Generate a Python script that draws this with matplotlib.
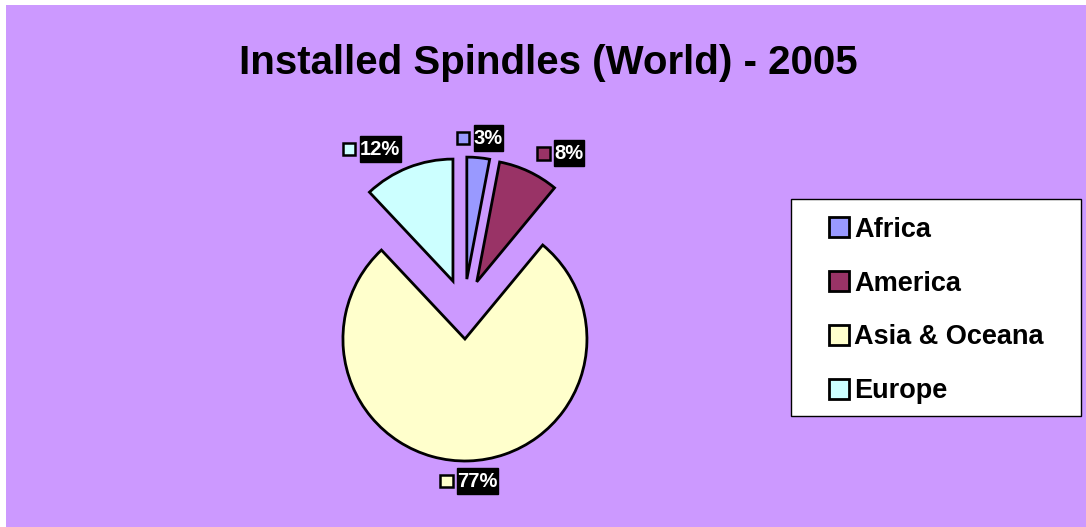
import matplotlib
matplotlib.use("Agg")
import numpy as np
import matplotlib.pyplot as plt
from matplotlib.patches import Rectangle
from matplotlib.offsetbox import (AnnotationBbox, DrawingArea, TextArea, HPacker,
                                  VPacker, PaddedBox)

plt.rcParams['font.family'] = ['Liberation Sans', 'DejaVu Sans']

# data
regions = ["Africa", "America", "Asia & Oceana", "Europe"]
shares = [3, 8, 77, 12]
colors = ["#9999FF", "#993366", "#FFFFCC", "#CCFFFF"]
title = "Installed Spindles (World) - 2005"

W, H = 1086, 527
dpi = 100
fig = plt.figure(figsize=(W / dpi, H / dpi), dpi=dpi)
fig.patch.set_facecolor("white")

# purple chart area (thin white margin top/left)
fig.add_artist(Rectangle((6 / W, 0), 1 - 6 / W, (H - 5) / H, transform=fig.transFigure,
                         facecolor="#CC99FF", edgecolor="none", zorder=-1))

# pie geometry in pixels
r_px = 122
cx, cy = 464, 309

ax = fig.add_axes([0, 0, 1, 1])
ax.patch.set_alpha(0)
wedges, _ = ax.pie(shares, colors=colors, startangle=90, counterclock=False,
                   explode=[0.246] * len(shares), radius=1,
                   wedgeprops=dict(edgecolor="black", linewidth=2))
ax.set_xlim(-cx / r_px, (W - cx) / r_px)
ax.set_ylim(-(H - cy) / r_px, cy / r_px)
ax.set_axis_off()

# data labels: small key square + white text on black
d = 172 / r_px
for w, s, c in zip(wedges, shares, colors):
    theta = np.deg2rad((w.theta1 + w.theta2) / 2)
    px, py = d * np.cos(theta), d * np.sin(theta)
    if abs(np.cos(theta)) < 0.2:
        halign = 0.5
    elif np.cos(theta) > 0:
        halign = 0.0
    else:
        halign = 1.0
    da = DrawingArea(9, 9)
    da.add_artist(Rectangle((0, 0), 9, 9, facecolor=c, edgecolor="black", lw=1.8))
    ta = TextArea(f"{s}%", textprops=dict(color="white", fontsize=14.5, fontweight="bold"))
    # extra vertical room inside the black box
    inner = VPacker(children=[DrawingArea(0, 2.5), ta, DrawingArea(0, 2)], sep=0,
                    align="center")
    pb = PaddedBox(inner, pad=0.3, draw_frame=True,
                   patch_attrs=dict(facecolor="black", edgecolor="black"))
    hp = HPacker(children=[da, pb], sep=3, align="center")
    ab = AnnotationBbox(hp, (px, py), xycoords="data", box_alignment=(halign, 0.5),
                        frameon=False, pad=0)
    ax.add_artist(ab)

# title
fig.text(548.5 / W, 1 - 74 / H, title, ha="center", va="baseline",
         fontsize=29, fontweight="bold")

# legend box
lx0, lx1, ly0, ly1 = 791, 1081, 199, 416
fig.add_artist(Rectangle((lx0 / W, 1 - ly1 / H), (lx1 - lx0) / W, (ly1 - ly0) / H,
                         transform=fig.transFigure, facecolor="white",
                         edgecolor="black", lw=1, zorder=1))
leg = fig.legend(wedges, regions, loc="center",
                 bbox_to_anchor=((lx0 + lx1) / 2 / W, 1 - ((ly0 + ly1) / 2 + 3) / H),
                 frameon=False, prop=dict(size=19.5, weight="bold"),
                 handlelength=0.74, handleheight=0.74, handletextpad=0.2,
                 labelspacing=1.03, borderpad=0)
leg.set_zorder(2)

fig.savefig("out.png", dpi=dpi)
